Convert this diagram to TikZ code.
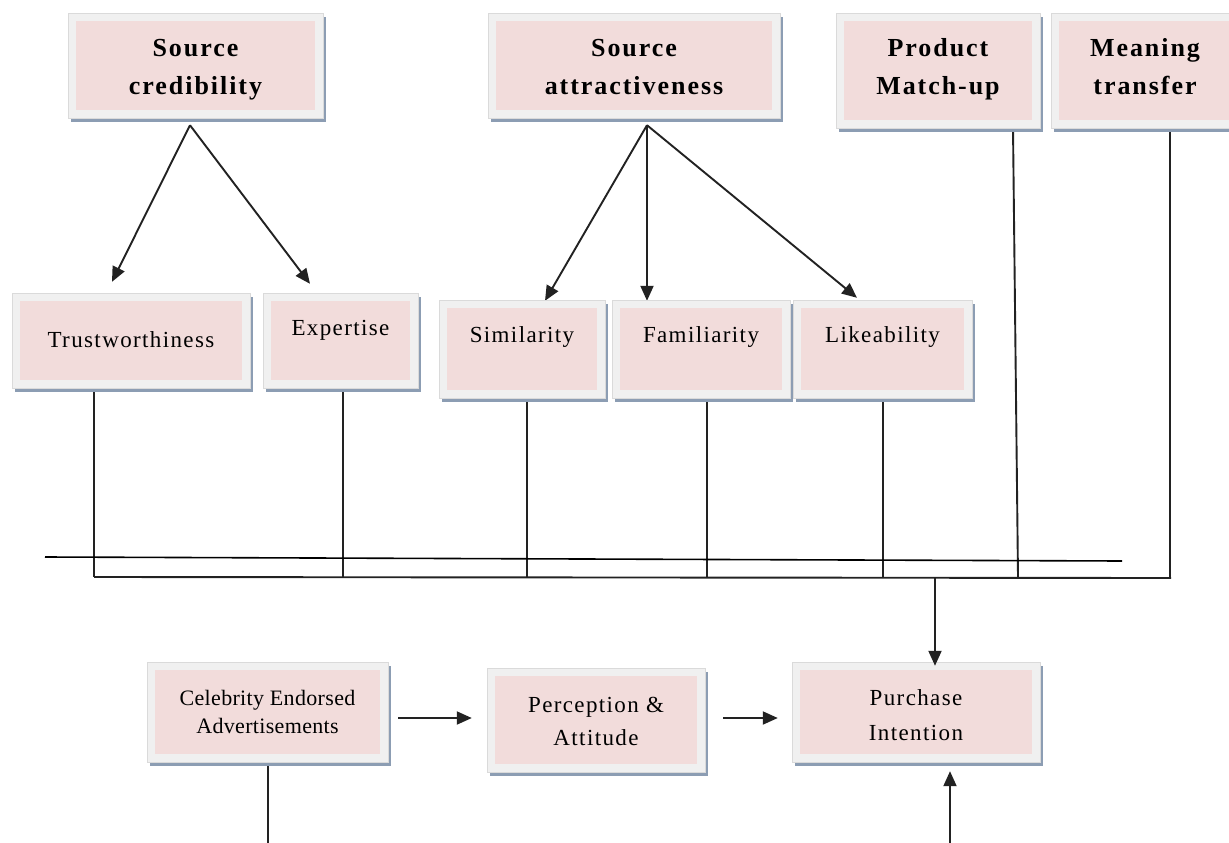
\documentclass[tikz,border=0pt]{standalone}
\usepackage{fontspec}
\setmainfont{Liberation Serif}
\newfontfamily\headfont[LetterSpace=7.5]{Liberation Serif}
\newfontfamily\boxfont[LetterSpace=6]{Liberation Serif}
\newfontfamily\celebfont[LetterSpace=1.5]{Liberation Serif}
\usetikzlibrary{arrows.meta,shadows,calc}
\pgfdeclarelayer{background}
\pgfsetlayers{background,main}
\definecolor{pinkc}{HTML}{F2DCDB}
\definecolor{framec}{HTML}{F0F0F0}
\definecolor{frameedge}{HTML}{DADADA}
\definecolor{shadowc}{HTML}{8C9DB3}
\definecolor{linec}{HTML}{222222}
\tikzset{
  box/.style={draw=frameedge, line width=0.4pt, fill=framec, inner sep=0pt,
    drop shadow={shadow xshift=3pt, shadow yshift=-4pt, fill=shadowc, opacity=1},
    path picture={\fill[pinkc] ([xshift=8pt,yshift=-8pt]path picture bounding box.north west)
      rectangle ([xshift=-8pt,yshift=8pt]path picture bounding box.south east);}},
  headbox/.style={box, align=center, font=\headfont\bfseries\fontsize{26}{39}\selectfont},
  midbox/.style={box, font=\boxfont\fontsize{23}{32}\selectfont},
  lowbox/.style={box, align=center},
  conn/.style={draw=linec, line width=1.9pt},
  arr/.style={conn, -{Triangle[length=15pt,width=13pt]}},
}
\begin{document}
\begin{tikzpicture}[x=1pt,y=-1pt]
\begin{pgfonlayer}{background}
\fill[white] (0,0) rectangle (1229,843);
\end{pgfonlayer}
\useasboundingbox (0,0) rectangle (1229,843);

% top row
\node[headbox, minimum width=255pt, text height=82pt, text depth=23pt] (cred) at (195.5,65.5) {Source\\credibility};
\node[headbox, minimum width=292pt, text height=82pt, text depth=23pt] (attr) at (634,65.5) {Source\\attractiveness};
\node[headbox, minimum width=204pt, text height=82pt, text depth=33pt] (match) at (938,70.5) {Product\\Match-up};
\node[headbox, minimum width=188pt, text height=82pt, text depth=33pt] (mean) at (1145,70.5) {Meaning\\transfer};

% middle row
\node[midbox, minimum width=238pt, text height=54pt, text depth=41pt] (trust) at (131,340.5) {Trustworthiness};
\node[midbox, minimum width=155pt, text height=42pt, text depth=53pt] (expert) at (340.5,340.5) {Expertise};
\node[midbox, minimum width=166pt, text height=42pt, text depth=56pt] (sim) at (522,349) {Similarity};
\node[midbox, minimum width=178pt, text height=42pt, text depth=56pt] (fam) at (701,349) {Familiarity};
\node[midbox, minimum width=179pt, text height=42pt, text depth=56pt] (like) at (882.5,349) {Likeability};

% bottom row
\node[lowbox, font=\celebfont\fontsize{22}{28}\selectfont, minimum width=241pt, text height=71pt, text depth=29pt] (celeb) at (267.5,712) {Celebrity Endorsed\\Advertisements};
\node[lowbox, font=\boxfont\fontsize{23}{33}\selectfont, minimum width=218pt, text height=77pt, text depth=27pt] (percep) at (596,720) {Perception \&\\Attitude};
\node[lowbox, font=\boxfont\fontsize{23}{35}\selectfont, minimum width=248pt, text height=78pt, text depth=22pt] (purch) at (916,712) {Purchase\\Intention};

% free coordinates
\coordinate (busL) at (94,577);
\coordinate (busR) at (1171,578);
\coordinate (busP) at (935,578);
\coordinate (ulA) at (45,557);
\coordinate (ulB) at (1122,561);
\coordinate (bottomL) at (268,843);
\coordinate (bottomR) at (950,843);
\coordinate (credO) at ($(cred.south)+(-5.5,7)$);
\coordinate (attrO) at ($(attr.south)+(13,7)$);
\coordinate (dT) at ($(trust.south)+(-37,0)$);
\coordinate (dE) at ($(expert.south)+(2.5,0)$);
\coordinate (dS) at ($(sim.south)+(5,0)$);
\coordinate (dF) at ($(fam.south)+(6,0)$);
\coordinate (dL) at ($(like.south)+(0.5,0)$);
\coordinate (dM) at ($(match.south)+(75,0)$);
\coordinate (dMb) at ($(match.south)+(80,0)$);
\coordinate (dN) at ($(mean.south)+(25,0)$);

\begin{pgfonlayer}{background}
% fans
\draw[arr] (credO) -- ($(trust.north)+(-19,-11)$);
\draw[arr] (credO) -- ($(expert.north)+(-30.5,-9)$);
\draw[arr] (attrO) -- ($(sim.north)+(23,1)$);
\draw[arr] (attrO) -- ($(fam.north)+(-54,1)$);
\draw[arr] (attrO) -- ($(like.north)+(-25.5,-2)$);
% drops to bus
\draw[conn] (dT) -- (dT |- busL);
\draw[conn] (dE) -- (dE |- busL);
\draw[conn] (dS) -- (dS |- busL);
\draw[conn] (dF) -- (dF |- busL);
\draw[conn] (dL) -- (dL |- busL);
\draw[conn] (dM) -- (dMb |- busL);
\draw[conn] (dN) -- (dN |- busR);
\draw[conn] (bottomL |- celeb.south) -- (bottomL);
\end{pgfonlayer}
% bus lines
\draw[conn] (busL) -- (busR);
\draw[draw=black, line width=1.6pt] (ulA) -- (ulB);
\draw[arr] (busP) -- ($(busP |- purch.north)+(0,4)$);
% bottom flow
\draw[arr] ($(celeb.east)+(10,6)$) -- ($(percep.west)+(-15,-2)$);
\draw[arr] ($(percep.east)+(18,-2)$) -- ($(purch.west)+(-14,6)$);
\draw[arr] (bottomR) -- ($(bottomR |- purch.south)+(0,9)$);
\end{tikzpicture}
\end{document}
